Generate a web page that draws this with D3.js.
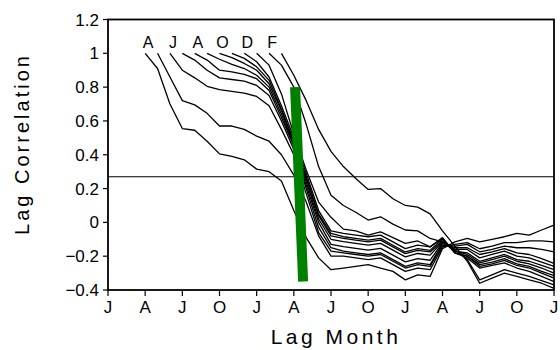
<!DOCTYPE html>
<html>
<head>
<meta charset="utf-8">
<script src="https://cdnjs.cloudflare.com/ajax/libs/d3/7.8.5/d3.min.js"></script>
<style>
  body { margin: 0; background: #fff; }
  text { font-family: "Liberation Sans", Arial, sans-serif; fill: #000; }
</style>
</head>
<body>
<svg id="chart" width="560" height="350"></svg>
<script>
// start month of each lag series (0 = Jan of year 0) and its values up to month 36
var startMonths = [3, 4, 5, 6, 7, 8, 9, 10, 11, 12, 13, 14];
var startLabels = ["A", "", "J", "", "A", "", "O", "", "D", "", "F", ""];

var corrApr = [1.0, 0.91, 0.70, 0.555, 0.545, 0.48, 0.405, 0.39, 0.37, 0.315, 0.30, 0.245, 0.07, -0.09, -0.21, -0.28, -0.27, -0.26, -0.25, -0.27, -0.29, -0.34, -0.31, -0.32, -0.155, -0.115, -0.095, -0.115, -0.10, -0.085, -0.065, -0.075, -0.045, -0.016];
var corrMay = [1.0, 0.86, 0.72, 0.695, 0.645, 0.57, 0.57, 0.55, 0.51, 0.48, 0.40, 0.28, 0.12, -0.08, -0.2, -0.20, -0.21, -0.22, -0.21, -0.25, -0.29, -0.27, -0.28, -0.145, -0.13, -0.12, -0.156, -0.14, -0.12, -0.12, -0.11, -0.11, -0.115];
var corrJun = [1.0, 0.90, 0.855, 0.805, 0.785, 0.775, 0.765, 0.745, 0.69, 0.55, 0.40, 0.17, -0.06, -0.17, -0.18, -0.19, -0.20, -0.19, -0.23, -0.27, -0.25, -0.26, -0.135, -0.14, -0.13, -0.174, -0.16, -0.14, -0.15, -0.15, -0.16, -0.174];
var corrJul = [1.0, 0.96, 0.90, 0.855, 0.845, 0.835, 0.81, 0.75, 0.60, 0.43, 0.20, -0.03, -0.15, -0.17, -0.18, -0.19, -0.18, -0.22, -0.26, -0.24, -0.25, -0.125, -0.15, -0.15, -0.19, -0.175, -0.155, -0.18, -0.19, -0.215, -0.243];
var corrAug = [1.0, 0.96, 0.90, 0.89, 0.875, 0.85, 0.78, 0.62, 0.45, 0.22, 0.0, -0.13, -0.144, -0.154, -0.164, -0.154, -0.194, -0.234, -0.214, -0.224, -0.12, -0.16, -0.16, -0.21, -0.19, -0.17, -0.2, -0.21, -0.235, -0.26];
var corrSep = [1.0, 0.965, 0.935, 0.91, 0.87, 0.80, 0.64, 0.46, 0.24, 0.02, -0.10, -0.114, -0.124, -0.134, -0.124, -0.164, -0.204, -0.184, -0.194, -0.115, -0.17, -0.18, -0.23, -0.21, -0.19, -0.22, -0.23, -0.255, -0.28];
var corrOct = [1.0, 0.975, 0.94, 0.90, 0.82, 0.66, 0.47, 0.26, 0.04, -0.08, -0.095, -0.105, -0.115, -0.105, -0.145, -0.185, -0.165, -0.175, -0.11, -0.17, -0.19, -0.24, -0.22, -0.20, -0.23, -0.245, -0.27, -0.30];
var corrNov = [1.0, 0.97, 0.92, 0.84, 0.67, 0.48, 0.27, 0.05, -0.065, -0.085, -0.095, -0.105, -0.095, -0.135, -0.175, -0.155, -0.165, -0.10, -0.18, -0.2, -0.25, -0.235, -0.215, -0.245, -0.26, -0.29, -0.315];
var corrDec = [1.0, 0.95, 0.86, 0.69, 0.50, 0.29, 0.07, -0.05, -0.065, -0.075, -0.085, -0.075, -0.115, -0.155, -0.135, -0.145, -0.095, -0.18, -0.2, -0.26, -0.245, -0.225, -0.255, -0.27, -0.30, -0.33];
var corrJan = [1.0, 0.93, 0.76, 0.52, 0.31, 0.12, 0.03, -0.04, -0.05, -0.075, -0.056, -0.09, -0.124, -0.11, -0.145, -0.09, -0.18, -0.21, -0.27, -0.255, -0.24, -0.27, -0.29, -0.32, -0.35];
var corrFeb = [1.0, 0.93, 0.80, 0.58, 0.33, 0.16, 0.10, 0.06, 0.014, 0.033, -0.01, -0.045, -0.05, -0.095, -0.115, -0.16, -0.22, -0.34, -0.31, -0.28, -0.30, -0.32, -0.345, -0.37];
var corrMar = [1.0, 0.87, 0.72, 0.55, 0.42, 0.33, 0.26, 0.195, 0.20, 0.14, 0.10, 0.09, 0.05, -0.05, -0.14, -0.23, -0.36, -0.33, -0.30, -0.32, -0.34, -0.36, -0.39];

var allSeries = [corrApr, corrMay, corrJun, corrJul, corrAug, corrSep, corrOct, corrNov, corrDec, corrJan, corrFeb, corrMar];

var tickMonths = [0, 3, 6, 9, 12, 15, 18, 21, 24, 27, 30, 33, 36];
var tickLabels = ["J", "A", "J", "O", "J", "A", "J", "O", "J", "A", "J", "O", "J"];
var yTicks = [-0.4, -0.2, 0, 0.2, 0.4, 0.6, 0.8, 1, 1.2];

var refLevel = 0.27;
var barMonths = [15.1, 15.75];
var barValues = [0.8, -0.35];

var svg = d3.select("#chart"),
    plotLeft = 108, plotRight = 554, plotTop = 19.5, plotBottom = 290;

var x = d3.scaleLinear().domain([0, 36]).range([plotLeft, plotRight]);
var y = d3.scaleLinear().domain([-0.4, 1.2]).range([plotBottom, plotTop]);

svg.append("rect").attr("width", 560).attr("height", 350).attr("fill", "#fff");

var line = d3.line()
    .x(function(d) { return x(d.m); })
    .y(function(d) { return y(d.v); });

var g = svg.append("g");

allSeries.forEach(function(vals, i) {
    var pts = vals.map(function(v, k) { return { m: startMonths[i] + k, v: v }; });
    g.append("path")
     .attr("d", line(pts))
     .attr("fill", "none")
     .attr("stroke", "#000")
     .attr("stroke-width", 1.3)
     .attr("stroke-linejoin", "round");
    if (startLabels[i]) {
        g.append("text")
         .attr("x", x(startMonths[i]) + 3)
         .attr("y", y(1) - 5)
         .attr("text-anchor", "middle")
         .style("font-size", "16px")
         .text(startLabels[i]);
    }
});

// reference level
g.append("line")
 .attr("x1", x(0)).attr("x2", x(36))
 .attr("y1", y(refLevel)).attr("y2", y(refLevel))
 .attr("stroke", "#000").attr("stroke-width", 1.2);

// green bar
g.append("line")
 .attr("x1", x(barMonths[0])).attr("y1", y(barValues[0]))
 .attr("x2", x(barMonths[1])).attr("y2", y(barValues[1]))
 .attr("stroke", "#008000").attr("stroke-width", 10);

// frame
svg.append("rect")
 .attr("x", plotLeft).attr("y", plotTop)
 .attr("width", plotRight - plotLeft).attr("height", plotBottom - plotTop)
 .attr("fill", "none").attr("stroke", "#000").attr("stroke-width", 1.8);

// x axis
var xAxis = svg.append("g").attr("transform", "translate(0," + plotBottom + ")");
xAxis.selectAll("line").data(tickMonths).enter().append("line")
 .attr("x1", function(d) { return x(d); }).attr("x2", function(d) { return x(d); })
 .attr("y1", 0).attr("y2", 6)
 .attr("stroke", "#000").attr("stroke-width", 1.2);
xAxis.selectAll("text").data(tickMonths).enter().append("text")
 .attr("x", function(d) { return x(d); })
 .attr("y", 23)
 .attr("text-anchor", "middle")
 .style("font-size", "17px")
 .text(function(d, i) { return tickLabels[i]; });

// y axis
var yAxis = svg.append("g").attr("transform", "translate(" + plotLeft + ",0)");
yAxis.selectAll("line").data(yTicks).enter().append("line")
 .attr("x1", -5).attr("x2", 0)
 .attr("y1", function(d) { return y(d); }).attr("y2", function(d) { return y(d); })
 .attr("stroke", "#000").attr("stroke-width", 1.2);
yAxis.selectAll("text").data(yTicks).enter().append("text")
 .attr("x", -9)
 .attr("y", function(d) { return y(d); })
 .attr("dy", "0.36em")
 .attr("text-anchor", "end")
 .style("font-size", "17px")
 .text(function(d) { return d < 0 ? "\u2212" + Math.abs(d) : String(d); });

svg.append("text")
 .attr("x", 336).attr("y", 344)
 .attr("text-anchor", "middle")
 .style("font-size", "21px")
 .style("letter-spacing", "3.5px")
 .text("Lag Month");

svg.append("text")
 .attr("transform", "translate(29,144) rotate(-90)")
 .attr("text-anchor", "middle")
 .style("font-size", "20px")
 .style("letter-spacing", "3px")
 .text("Lag Correlation");
</script>
</body>
</html>
